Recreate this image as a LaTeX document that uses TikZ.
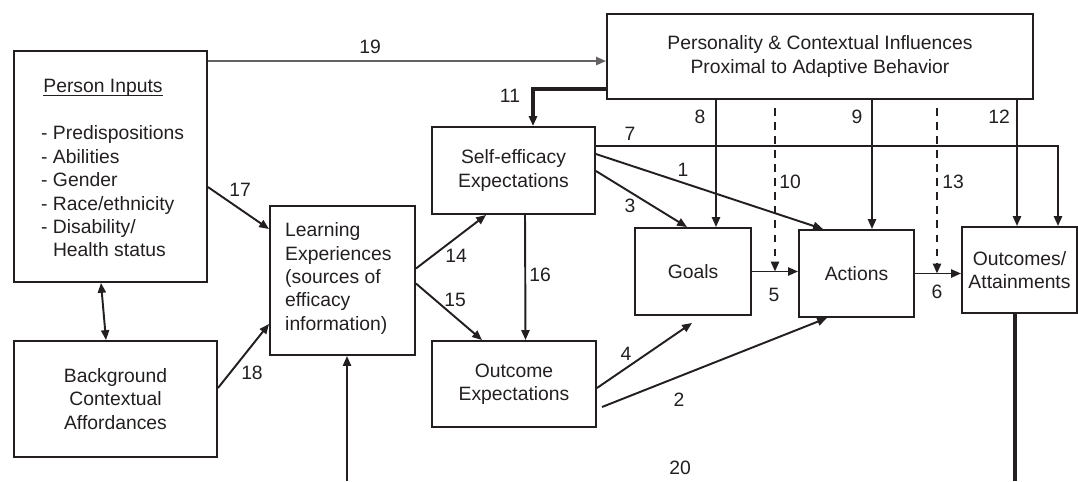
\documentclass[tikz,border=0pt]{standalone}
\usepackage{fontspec}
\setmainfont{Liberation Sans}
\usetikzlibrary{arrows.meta,calc}
\definecolor{ink}{HTML}{231F20}
\newcommand{\myul}[1]{\setbox0\hbox{#1}\rlap{\rule[-1.8pt]{\wd0}{0.7pt}}\box0}
\begin{document}
\begin{tikzpicture}[x=0.02cm,y=-0.02cm,
 every node/.style={text=ink,font=\fontsize{11}{13.3}\selectfont},
 box/.style 2 args={draw=ink,line width=1.1pt,minimum width=#1*0.02cm,minimum height=#2*0.02cm,inner sep=0pt,align=center},
 conn/.style={draw=ink,line width=1.1pt,-{Triangle[length=5.6pt,width=4.6pt]}},
 both/.style={draw=ink,line width=1.1pt,{Triangle[length=5.6pt,width=4.6pt]}-{Triangle[length=5.6pt,width=4.6pt]}},
 heavy/.style={conn,line width=2.1pt},
 dashconn/.style={conn,dash pattern=on 4.5pt off 3.5pt}]
\useasboundingbox (0,0) rectangle (1078,481);

% boxes
\node[box={193}{231}] (pin) at (110.5,166.5) {};
\node (pintitle) at (103,88) {\myul{Person Inputs}};
\node[anchor=west,align=left] (pinlist) at (35,191.5) {- Predispositions\\- Abilities\\- Gender\\- Race/ethnicity\\- Disability/\\\hphantom{- }Health status};
\node[box={203}{116}] (bg) at (115.5,399) {Background\\Contextual\\Affordances};
\node[box={426}{85}] (pers) at (820,56.5) {Personality \& Contextual Influences\\Proximal to Adaptive Behavior};
\node[box={145}{149}] (le) at (342.5,280.5) {};
\node[anchor=west,align=left] (letext) at (279,278.5) {Learning\\Experiences\\(sources of\\efficacy\\information)};
\node[box={163}{87}] (se) at (513.5,170.5) {Self-efficacy\\Expectations};
\node[box={164}{86}] (oe) at (514,384) {Outcome\\Expectations};
\node[box={116}{87}] (goals) at (693,271.5) {Goals};
\node[box={115}{87}] (act) at (856.5,273.5) {Actions};
\node[box={115}{86}] (out) at (1019.5,270) {Outcomes/\\Attainments};

% 19
\coordinate (c19) at ([shift={(0,11)}]pin.north east);
\draw[conn,draw=ink!70] (c19) -- (c19 -| pers.west);
% 11
\draw[heavy] ([shift={(0,-11)}]pers.south west) -| ([shift={(19.5,0)}]se.north);
% 8, 9, 12
\coordinate (x8) at ([shift={(23,0)}]goals.north);
\draw[conn] (pers.south -| x8) -- (x8);
\coordinate (x9) at ([shift={(15.5,0)}]act.north);
\draw[conn] (pers.south -| x9) -- (x9);
\coordinate (x12) at ([shift={(-2.5,0)}]out.north);
\draw[conn] (pers.south -| x12) -- (x12);
% 7
\draw[conn] ([shift={(0,20)}]se.north east) -| ([shift={(38.5,0)}]out.north);
% 1, 3
\draw[conn] ([shift={(0,28)}]se.north east) -- ([shift={(-33.5,0)}]act.north);
\draw[conn] ([shift={(0,45)}]se.north east) -- ([shift={(-6,0)}]goals.north);
% 5, 6
\draw[conn] (goals.east) -- (goals.east -| act.west);
\draw[conn] (act.east) -- (act.east -| out.west);
% 10, 13
\coordinate (d10) at (775,108);
\draw[dashconn] (d10) -- (d10 |- goals.east);
\coordinate (d13) at (937,108);
\draw[dashconn] (d13) -- (d13 |- act.east);
% 4, 2
\draw[conn] ([shift={(0,4)}]oe.east) -- ([shift={(-1,7)}]goals.south);
\draw[conn] ([shift={(5,23)}]oe.east) -- ([shift={(-29.5,0)}]act.south);
% 14, 15, 16
\draw[conn] ([shift={(0,-12)}]le.east) -- ([shift={(-27.5,0)}]se.south);
\draw[conn] ([shift={(0,3)}]le.east) -- ([shift={(-32,0)}]oe.north);
\draw[conn] ([shift={(11.5,0)}]se.south) -- ([shift={(11.5,0)}]oe.north);
% 17, 18
\draw[conn] ([shift={(0,137)}]pin.north east) -- ([shift={(0,24)}]le.north west);
\draw[conn] ([shift={(0,-11)}]bg.east) -- ([shift={(0,-32)}]le.south west);
% double arrow
\draw[both] ([shift={(-9.5,0)}]pin.south) -- ([shift={(-9.5,0)}]bg.north);
% 20
\coordinate (b20) at (347,481);
\draw[conn] (b20) -- (b20 |- le.south);
\coordinate (bout) at (1015,481);
\draw[draw=ink,line width=2.1pt] (bout |- out.south) -- (bout);

% labels
\node (l19) at (370,47) {19};
\node (l11) at (510,96) {11};
\node (l8) at (700,117) {8};
\node (l9) at (857,117) {9};
\node (l12) at (999,117) {12};
\node (l7) at (630,134) {7};
\node (l1) at (683,170) {1};
\node (l10) at (790,182) {10};
\node (l13) at (953,182) {13};
\node (l3) at (630,206) {3};
\node (l17) at (240,190) {17};
\node (l14) at (456,256) {14};
\node (l16) at (540,275) {16};
\node (l5) at (774,295) {5};
\node (l6) at (937,292) {6};
\node (l15) at (455,300) {15};
\node (l4) at (626,354) {4};
\node (l18) at (252,373) {18};
\node (l2) at (679,400) {2};
\node (l20) at (680,468) {20};
\end{tikzpicture}
\end{document}
